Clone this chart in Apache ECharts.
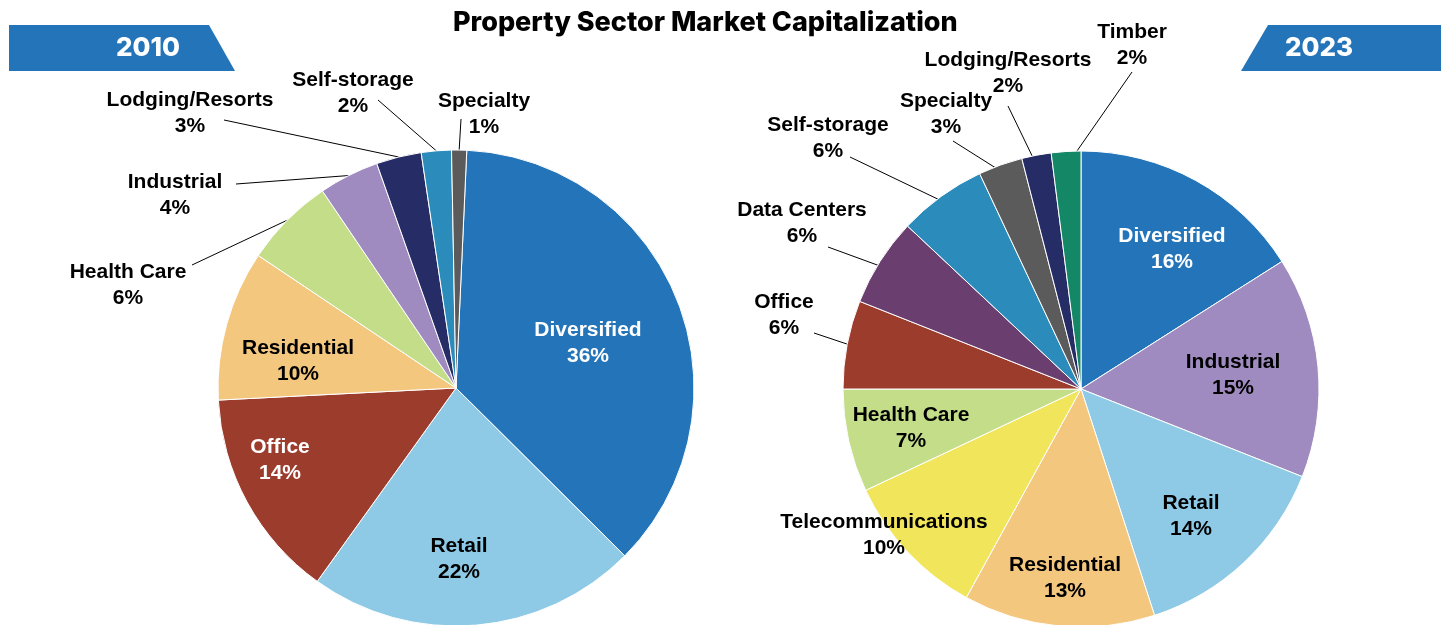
<!DOCTYPE html>
<html>
<head>
<meta charset="utf-8">
<script src="https://cdn.jsdelivr.net/npm/echarts@6/dist/echarts.min.js"></script>
<style>
  html, body { margin: 0; padding: 0; background: #fff; }
  #pies { width: 1441px; height: 625px; }
</style>
</head>
<body>
<div id="pies"></div>
<script>
// data
var cats2010 = ['Diversified', 'Retail', 'Office', 'Residential', 'Health Care', 'Industrial', 'Lodging/Resorts', 'Self-storage', 'Specialty'];
var vals2010 = [36, 22, 14, 10, 6, 4, 3, 2, 1];
var cats2023 = ['Diversified', 'Industrial', 'Retail', 'Residential', 'Telecommunications', 'Health Care', 'Office', 'Data Centers', 'Self-storage', 'Specialty', 'Lodging/Resorts', 'Timber'];
var vals2023 = [16, 15, 14, 13, 10, 7, 6, 6, 6, 3, 2, 2];

var sectorColors = {
    'Diversified': '#2474b9',
    'Retail': '#8ecae6',
    'Office': '#9c3c2d',
    'Residential': '#f4c77f',
    'Health Care': '#c3dd89',
    'Industrial': '#a08bc0',
    'Lodging/Resorts': '#262d66',
    'Self-storage': '#2b8cbb',
    'Specialty': '#5b5b5b',
    'Telecommunications': '#f1e55b',
    'Data Centers': '#6a3e6f',
    'Timber': '#138766'
};
var whiteText = { 'Diversified': true };

// label anchors: [x, y] for inside ones, [x, y, lineEndX, lineEndY, inset] for ones with a leader line
var labelPos2010 = {
    'Diversified': [588, 343],
    'Retail': [459, 559],
    'Office': [280, 460],
    'Residential': [298, 361],
    'Health Care': [128, 285, 192, 265, 0],
    'Industrial': [175, 195, 236, 184, 0],
    'Lodging/Resorts': [190, 113, 224, 120, 0],
    'Self-storage': [353, 93, 378, 100, 0],
    'Specialty': [484, 114, 461, 119, 0]
};
var labelPos2023 = {
    'Diversified': [1172, 249],
    'Industrial': [1233, 375],
    'Retail': [1191, 516],
    'Residential': [1065, 578],
    'Telecommunications': [884, 535],
    'Health Care': [911, 428],
    'Office': [784, 315, 814, 333, 2],
    'Data Centers': [802, 223, 828, 247, 20],
    'Self-storage': [828, 138, 850, 157, 8],
    'Specialty': [946, 114, 953, 141, 8],
    'Lodging/Resorts': [1008, 73, 1008, 106, 16],
    'Timber': [1132, 45, 1132, 72, 14]
};

var centers = [[456, 388], [1081, 389]];
var layouts = [labelPos2010, labelPos2023];
var cats = [cats2010, cats2023];

function buildData(names, values, pos, seriesIdx) {
    return names.map(function (name, i) {
        var p = pos[name];
        var hasLine = p.length > 2;
        var white = whiteText[name] || (seriesIdx === 0 && name === 'Office');
        return {
            name: name,
            value: values[i],
            itemStyle: { color: sectorColors[name] },
            label: {
                position: hasLine ? 'outside' : 'inside',
                color: white ? '#ffffff' : '#000000'
            },
            labelLine: { show: hasLine }
        };
    });
}

function layoutLabel(params) {
    var name = cats[params.seriesIndex][params.dataIndex];
    var p = layouts[params.seriesIndex][name];
    var out = { x: p[0], y: p[1], align: 'center', verticalAlign: 'middle' };
    if (p.length > 2 && params.labelLinePoints) {
        var c = centers[params.seriesIndex];
        var p0 = params.labelLinePoints[0];
        var dx = p0[0] - c[0], dy = p0[1] - c[1];
        var len = Math.sqrt(dx * dx + dy * dy);
        var start = [p0[0] - dx / len * p[4], p0[1] - dy / len * p[4]];
        out.labelLinePoints = [start, [p[2], p[3]], [p[2], p[3]]];
    }
    return out;
}

var labelStyle = {
    formatter: '{b}\n{c}%',
    fontFamily: 'Liberation Sans, Arial, sans-serif',
    fontWeight: 'bold',
    fontSize: 21,
    lineHeight: 26,
    color: '#000'
};

var chart = echarts.init(document.getElementById('pies'));
var option = {
    animation: false,
    title: {
        text: 'Property Sector Market Capitalization',
        left: 448,
        top: 4,
        textStyle: {
            fontFamily: 'Inter, Liberation Sans, sans-serif',
            fontWeight: 800,
            fontSize: 27,
            color: '#000'
        }
    },
    graphic: [
        {
            type: 'polygon',
            shape: { points: [[9, 25], [209, 25], [235, 71], [9, 71]] },
            style: { fill: '#2474b9' }
        },
        {
            type: 'text',
            x: 148, y: 48,
            style: {
                text: '2010', fill: '#fff', align: 'center', verticalAlign: 'middle',
                font: '800 26px Inter, Liberation Sans, sans-serif'
            }
        },
        {
            type: 'polygon',
            shape: { points: [[1268, 25], [1441, 25], [1441, 71], [1241, 71]] },
            style: { fill: '#2474b9' }
        },
        {
            type: 'text',
            x: 1319, y: 48,
            style: {
                text: '2023', fill: '#fff', align: 'center', verticalAlign: 'middle',
                font: '800 26px Inter, Liberation Sans, sans-serif'
            }
        }
    ],
    series: [
        {
            name: '2010',
            type: 'pie',
            center: centers[0],
            radius: 238,
            startAngle: 87.4,
            clockwise: true,
            avoidLabelOverlap: false,
            itemStyle: { borderColor: '#ffffff', borderWidth: 1 },
            label: labelStyle,
            labelLine: { lineStyle: { color: '#000', width: 1 }, length: 10, length2: 0 },
            labelLayout: layoutLabel,
            emphasis: { disabled: true },
            data: buildData(cats2010, vals2010, labelPos2010, 0)
        },
        {
            name: '2023',
            type: 'pie',
            center: centers[1],
            radius: 238,
            startAngle: 90,
            clockwise: true,
            avoidLabelOverlap: false,
            itemStyle: { borderColor: '#ffffff', borderWidth: 1 },
            label: labelStyle,
            labelLine: { lineStyle: { color: '#000', width: 1 }, length: 10, length2: 0 },
            labelLayout: layoutLabel,
            emphasis: { disabled: true },
            data: buildData(cats2023, vals2023, labelPos2023, 1)
        }
    ]
};
chart.setOption(option);
window.addEventListener('resize', function () {
    chart.resize();
});
</script>
</body>
</html>
